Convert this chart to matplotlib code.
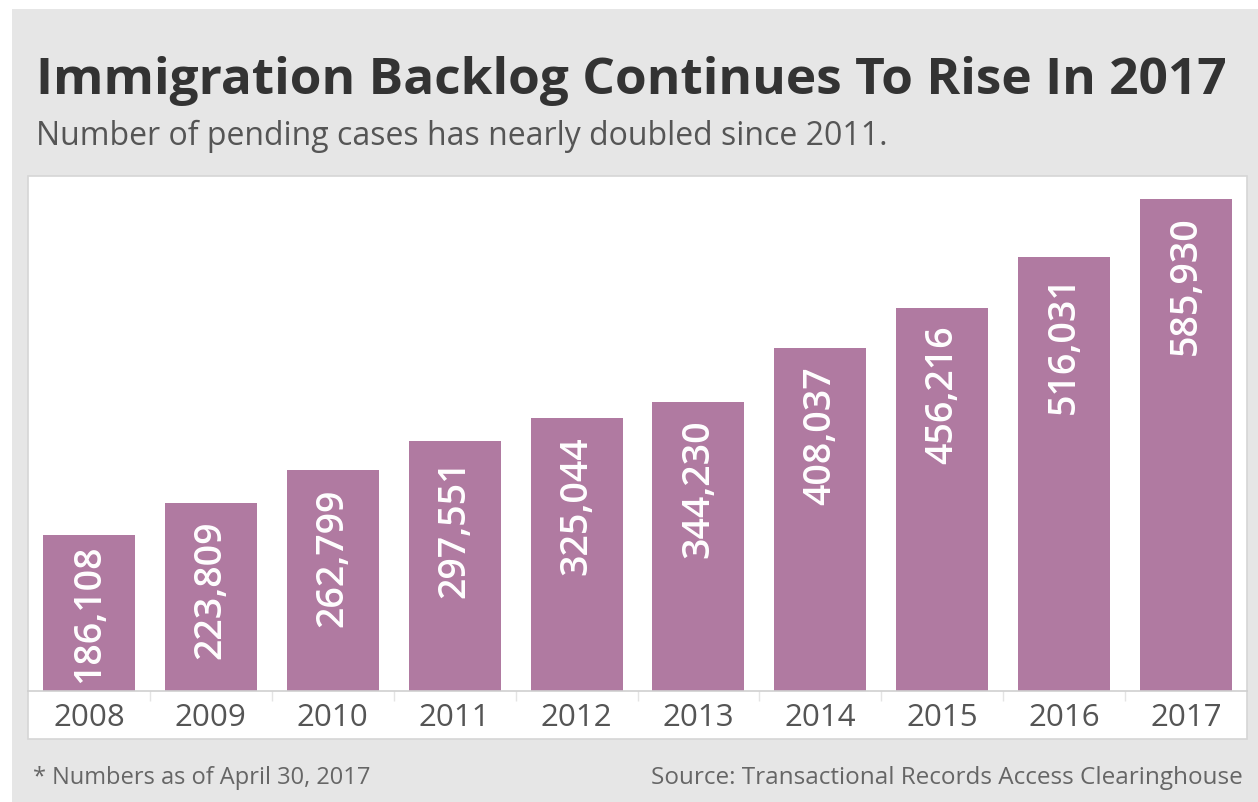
"""
Immigration backlog bar chart (Tableau-like look) recreated with matplotlib.
"""

import matplotlib.pyplot as plt
from matplotlib.patches import Rectangle

# ==== DATA ====
YEARS = ["2008", "2009", "2010", "2011", "2012", "2013", "2014", "2015", "2016", "2017"]
PENDING = [186108, 223809, 262799, 297551, 325044, 344230, 408037, 456216, 516031, 585930]

TITLE = "Immigration Backlog Continues To Rise In 2017"
SUBTITLE = "Number of pending cases has nearly doubled since 2011."
NOTE = "* Numbers as of April 30, 2017"
SOURCE = "Source: Transactional Records Access Clearinghouse"

# ==== STYLE ====
W, H = 1258, 802
BAR_COLOR = "#b07aa1"
PANEL_GRAY = "#e6e6e6"
FONT = ["Open Sans", "DejaVu Sans"]

plt.rcParams["font.family"] = FONT


def fx(px):
    return px / W


def fy(py):
    return 1 - py / H


fig = plt.figure(figsize=(W / 100, H / 100), dpi=100)
fig.patch.set_facecolor("white")

# gray panel + white chart box
fig.patches.append(Rectangle((fx(12), 0), 1 - fx(12), fy(9), transform=fig.transFigure,
                             facecolor=PANEL_GRAY, edgecolor="none", zorder=0))
fig.patches.append(Rectangle((fx(28), fy(739)), fx(1247) - fx(28), fy(176) - fy(739),
                             transform=fig.transFigure, facecolor="white",
                             edgecolor="#d6d6d6", linewidth=1.2, zorder=1))

# axes covering the plot area (baseline at y=691)
ax = fig.add_axes([fx(28), fy(691), fx(1247) - fx(28), fy(176) - fy(691)])
ax.set_facecolor("none")
ax.set_zorder(3)

x = list(range(len(YEARS)))
ax.bar(x, PENDING, width=0.755, color=BAR_COLOR, zorder=2)

ax.set_xlim(-0.5, len(YEARS) - 0.5)
ax.set_ylim(0, 613000)
ax.set_yticks([])
ax.set_xticks(x)
ax.set_xticklabels(YEARS, fontsize=22.5, color="#555555")
ax.set_xticks([i + 0.5 for i in x[:-1]], minor=True)
ax.tick_params(axis="x", which="major", length=0, pad=9)
ax.tick_params(axis="x", which="minor", length=7, color="#e4e4e4", width=1)

for s in ["top", "left", "right"]:
    ax.spines[s].set_visible(False)
ax.spines["bottom"].set_color("#cfcfcf")
ax.spines["bottom"].set_linewidth(1.2)

# value labels inside the bar end; pushed up if they would hit the baseline
labels = []
for xi, v in zip(x, PENDING):
    t = ax.annotate(f"{v:,}", (xi, v), xytext=(0, -18), textcoords="offset pixels",
                    rotation=90, ha="center", va="top", color="white",
                    fontsize=27, fontweight="semibold", zorder=3)
    labels.append(t)

fig.canvas.draw()
renderer = fig.canvas.get_renderer()
base_px = ax.transData.transform((0, 0))[1]
for t in labels:
    bb = t.get_window_extent(renderer)
    gap = bb.y0 - base_px
    if gap < 8:
        dx, dy = t.xyann
        t.xyann = (dx, dy + (8 - gap))

# texts
fig.text(fx(36), fy(94), TITLE, fontsize=37, fontweight="bold", color="#333333",
         ha="left", va="baseline")
fig.text(fx(36), fy(145), SUBTITLE, fontsize=23, color="#555555",
         ha="left", va="baseline")
fig.text(fx(33), fy(784), NOTE, fontsize=17, color="#666666", ha="left", va="baseline")
fig.text(fx(1243), fy(784), SOURCE, fontsize=17.5, color="#666666", ha="right", va="baseline")

fig.savefig("out.png", dpi=100)
